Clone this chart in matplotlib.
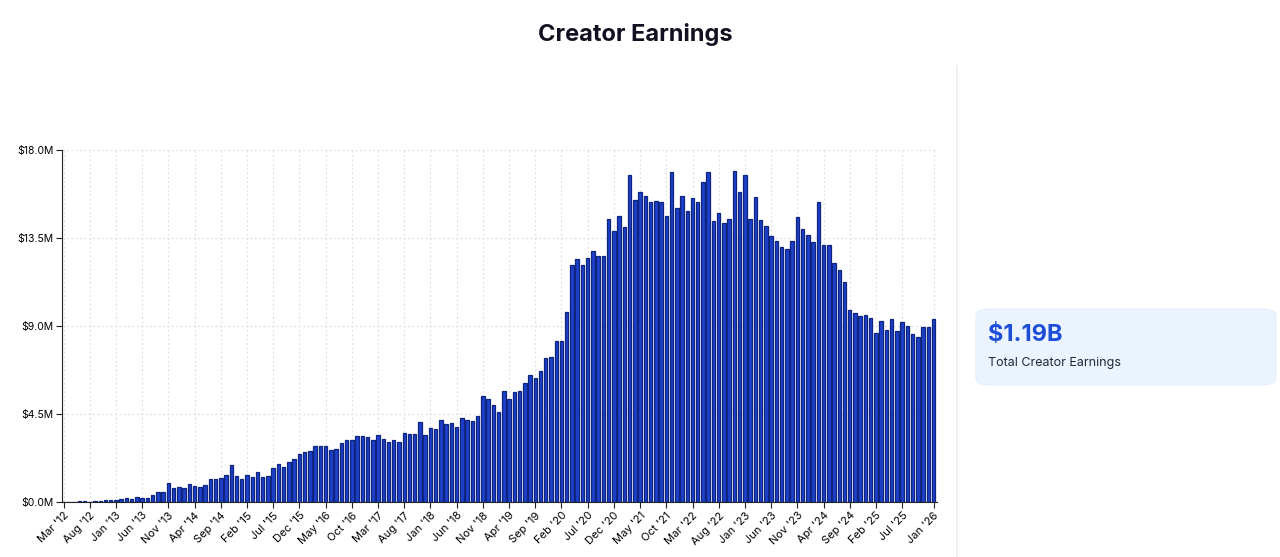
import numpy as np
import pandas as pd
import matplotlib
matplotlib.use("Agg")
import matplotlib.pyplot as plt
from matplotlib.patches import FancyBboxPatch
from matplotlib.lines import Line2D

plt.rcParams['font.family'] = ['Inter', 'DejaVu Sans']

# monthly creator earnings, millions of dollars, Mar 2012 .. Jan 2026
months = pd.date_range("2012-03-01", "2026-01-01", freq="MS")
earnings = [
    0.0, 0.0, 0.01, 0.03, 0.03, 0.02, 0.05, 0.05, 0.08, 0.10,
    0.12, 0.15, 0.22, 0.15, 0.25, 0.20, 0.22, 0.38, 0.50, 0.52,
    0.95, 0.74, 0.75, 0.70, 0.90, 0.82, 0.77, 0.89, 1.16, 1.16,
    1.23, 1.40, 1.87, 1.35, 1.18, 1.38, 1.29, 1.52, 1.29, 1.35,
    1.75, 1.94, 1.79, 2.06, 2.20, 2.45, 2.58, 2.62, 2.88, 2.85,
    2.87, 2.66, 2.73, 3.00, 3.15, 3.17, 3.37, 3.39, 3.32, 3.17,
    3.41, 3.22, 3.08, 3.19, 3.07, 3.51, 3.48, 3.46, 4.07, 3.41,
    3.78, 3.73, 4.17, 3.99, 4.05, 3.85, 4.31, 4.19, 4.14, 4.41,
    5.43, 5.25, 4.97, 4.62, 5.70, 5.29, 5.61, 5.67, 6.10, 6.48,
    6.34, 6.68, 7.35, 7.43, 8.23, 8.23, 9.72, 12.12, 12.41, 12.14,
    12.46, 12.85, 12.60, 12.60, 14.47, 13.86, 14.64, 14.06, 16.74, 15.43,
    15.85, 15.65, 15.36, 15.39, 15.32, 14.61, 16.86, 15.02, 15.65, 14.86,
    15.54, 15.34, 16.38, 16.86, 14.35, 14.78, 14.27, 14.47, 16.94, 15.85,
    16.74, 14.45, 15.58, 14.40, 14.11, 13.60, 13.33, 13.04, 12.92, 13.35,
    14.57, 13.98, 13.67, 13.30, 15.34, 13.12, 13.14, 12.20, 11.85, 11.23,
    9.82, 9.65, 9.51, 9.54, 9.39, 8.62, 9.26, 8.78, 9.36, 8.73,
    9.19, 9.00, 8.59, 8.44, 8.93, 8.93, 9.37,
]
month_labels = [m.strftime("%b '%y") for m in months]
y_ticks = [0, 4.5, 9.0, 13.5, 18.0]
total_label = "$1.19B"

fig = plt.figure(figsize=(12.8, 5.57), dpi=100)
ax = fig.add_axes([62 / 1280, 55 / 557, 875 / 1280, 352 / 557])

x = np.arange(len(earnings))
ax.bar(x, earnings, width=0.66, color="#1d40c8", edgecolor="#0e2580",
       linewidth=0.9, zorder=3)

# every 5th month, then the last month (skip one that would collide)
last = len(months) - 1
tick_idx = [i for i in range(0, last, 5) if last - i >= 3] + [last]
ax.set_xticks(tick_idx)
ax.set_xticklabels([month_labels[i] for i in tick_idx], rotation=45,
                   ha="right", rotation_mode="anchor", fontsize=8)
ax.set_yticks(y_ticks)
ax.set_yticklabels([f"${v:.1f}M" for v in y_ticks], fontsize=7.5)
ax.set_xlim(-0.3, len(months) - 0.35)
ax.set_ylim(0, 18)

ax.grid(True, color="#e0e0e0", linestyle=(0, (1.5, 2)), linewidth=0.9, zorder=0)
for s in ["top", "right"]:
    ax.spines[s].set_visible(False)
ax.spines["left"].set_color("#222222")
ax.spines["bottom"].set_color("#222222")
ax.tick_params(length=4, width=0.8, color="#222222", pad=2)

fig.text(635 / 1280, 1 - 35 / 557, "Creator Earnings", ha="center",
         va="center", fontsize=17, fontweight="bold", color="#111122")

# separator between chart and summary panel
fig.add_artist(Line2D([957 / 1280, 957 / 1280], [0, 1 - 66 / 557],
                      transform=fig.transFigure, color="#ececec", lw=1.2))

card = FancyBboxPatch((976 / 1280, 1 - 385 / 557), 300 / 1280, 76 / 557,
                      boxstyle="round,pad=0,rounding_size=0.012",
                      transform=fig.transFigure, facecolor="#ebf3fe",
                      edgecolor="#e4eefc", linewidth=0.8)
fig.add_artist(card)
fig.text(988 / 1280, 1 - 335 / 557, total_label, ha="left", va="center",
         fontsize=17, fontweight="bold", color="#1d4ed8")
fig.text(988 / 1280, 1 - 363 / 557, "Total Creator Earnings", ha="left",
         va="center", fontsize=9, color="#1f2937")

fig.savefig("out.png", dpi=100, facecolor="white")
